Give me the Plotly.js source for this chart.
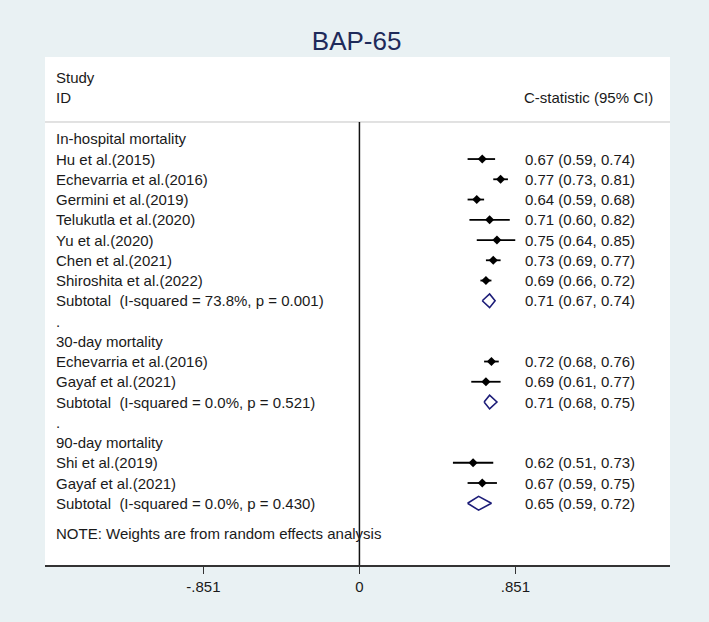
<!DOCTYPE html>
<html>
<head>
<meta charset="utf-8">
<script src="https://cdn.plot.ly/plotly-3.0.1.min.js"></script>
<style>html,body{margin:0;padding:0;background:#e9f1f3;}#chart{width:709px;height:622px;}</style>
</head>
<body>
<div id="chart"></div>
<script>
// ---- data ----
const rowLabels = [
  "In-hospital mortality",
  "Hu et al.(2015)",
  "Echevarria et al.(2016)",
  "Germini et al.(2019)",
  "Telukutla et al.(2020)",
  "Yu et al.(2020)",
  "Chen et al.(2021)",
  "Shiroshita et al.(2022)",
  "Subtotal  (I-squared = 73.8%, p = 0.001)",
  ".",
  "30-day mortality",
  "Echevarria et al.(2016)",
  "Gayaf et al.(2021)",
  "Subtotal  (I-squared = 0.0%, p = 0.521)",
  ".",
  "90-day mortality",
  "Shi et al.(2019)",
  "Gayaf et al.(2021)",
  "Subtotal  (I-squared = 0.0%, p = 0.430)"
];
const rowKind = ["head","study","study","study","study","study","study","study","sub","blank",
                 "head","study","study","sub","blank",
                 "head","study","study","sub"];
const estimate = [null,0.67,0.77,0.64,0.71,0.75,0.73,0.69,0.71,null,null,0.72,0.69,0.71,null,null,0.62,0.67,0.65];
const lower    = [null,0.59,0.73,0.59,0.60,0.64,0.69,0.66,0.67,null,null,0.68,0.61,0.68,null,null,0.51,0.59,0.59];
const upper    = [null,0.74,0.81,0.68,0.82,0.85,0.77,0.72,0.74,null,null,0.76,0.77,0.75,null,null,0.73,0.75,0.72];
const tickVals = [-0.851, 0, 0.851];
const tickText = ["-.851", "0", ".851"];
const headerLeft = ["Study", "ID"];
const headerRight = "C-statistic (95% CI)";
const noteText = "NOTE: Weights are from random effects analysis";
const chartTitle = "BAP-65";

// ---- build traces ----
const ciX = [], ciY = [], ptX = [], ptY = [], dX = [], dY = [];
const halfH = 0.34;
rowKind.forEach((k, i) => {
  if (k === "study") {
    ciX.push(lower[i], upper[i], null); ciY.push(i, i, null);
    ptX.push(estimate[i]); ptY.push(i);
  } else if (k === "sub") {
    dX.push(lower[i], estimate[i], upper[i], estimate[i], lower[i], null);
    dY.push(i, i - halfH, i, i + halfH, i, null);
  }
});

const traces = [
  {x: ciX, y: ciY, mode: "lines", line: {color: "#000", width: 1.8}, hoverinfo: "skip", showlegend: false},
  {x: ptX, y: ptY, mode: "markers", marker: {symbol: "diamond", color: "#000", size: 7}, hoverinfo: "skip", showlegend: false},
  {x: dX, y: dY, mode: "lines", line: {color: "#1c1c78", width: 1.6}, hoverinfo: "skip", showlegend: false}
];

const font = {family: "Liberation Sans, Arial, sans-serif", size: 15, color: "#1a1a1a"};
const xLabel = -1.665, xEst = 0.893, xHeadRight = 1.612;
const annotations = [];
rowLabels.forEach((t, i) => {
  annotations.push({x: xLabel, y: i, xref: "x", yref: "y", text: t, showarrow: false, xanchor: "left", yanchor: "middle", font: font});
  if (estimate[i] !== null) {
    const s = estimate[i].toFixed(2) + " (" + lower[i].toFixed(2) + ", " + upper[i].toFixed(2) + ")";
    annotations.push({x: xEst, y: i, xref: "x", yref: "y", text: s, showarrow: false, xanchor: "left", yanchor: "middle", font: font});
  }
});
annotations.push({x: xLabel, y: -3.05, xref: "x", yref: "y", text: headerLeft[0], showarrow: false, xanchor: "left", yanchor: "middle", font: font});
annotations.push({x: xLabel, y: -2.06, xref: "x", yref: "y", text: headerLeft[1], showarrow: false, xanchor: "left", yanchor: "middle", font: font});
annotations.push({x: xHeadRight, y: -2.06, xref: "x", yref: "y", text: headerRight, showarrow: false, xanchor: "right", yanchor: "middle", font: font});
annotations.push({x: xLabel, y: 19.5, xref: "x", yref: "y", text: noteText, showarrow: false, xanchor: "left", yanchor: "middle", font: font});

const yBottom = 21.05, yTop = -4.04, ySep = -0.83;

const layout = {
  width: 709, height: 622,
  paper_bgcolor: "#e9f1f3",
  plot_bgcolor: "#ffffff",
  margin: {l: 45, r: 39, t: 57, b: 57, pad: 0},
  title: {text: chartTitle, x: 0.503, xanchor: "center", y: 0.935, yanchor: "middle",
          font: {family: "Liberation Sans, Arial, sans-serif", size: 26, color: "#1e2a5a"}},
  xaxis: {range: [-1.715, 1.694], showgrid: false, zeroline: false, showline: true,
          linecolor: "#333", linewidth: 1.5, ticks: "outside", ticklen: 7, tickcolor: "#333", tickwidth: 1.3,
          tickvals: tickVals, ticktext: tickText, tickfont: font, fixedrange: true},
  yaxis: {range: [yBottom, yTop], visible: false, showgrid: false, zeroline: false, fixedrange: true},
  shapes: [
    {type: "line", xref: "paper", yref: "y", x0: 0, x1: 1, y0: ySep, y1: ySep, line: {color: "#c4c4c4", width: 1}},
    {type: "line", xref: "x", yref: "y", x0: 0, x1: 0, y0: ySep, y1: yBottom, line: {color: "#111", width: 1.5}}
  ],
  annotations: annotations,
  showlegend: false
};

Plotly.newPlot("chart", traces, layout, {displayModeBar: false, staticPlot: true});
</script>
</body>
</html>
